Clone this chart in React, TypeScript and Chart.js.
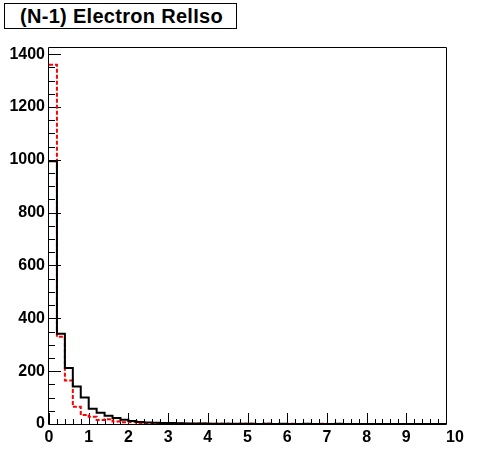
import React, { useEffect, useRef } from "react";
import { Chart, registerables } from "chart.js";

Chart.register(...registerables);

const titleText = "(N-1) Electron RelIso";
const binWidth = 0.2;
const xMin = 0;
const xMax = 10;
const yMax = 1427;
const xTickLabels = ["0", "1", "2", "3", "4", "5", "6", "7", "8", "9", "10"];
const yTickLabels = ["0", "200", "400", "600", "800", "1000", "1200", "1400"];

// black solid histogram (50 bins of width 0.2)
const blackCounts = [
  995, 342, 212, 142, 100, 58, 43, 31, 23, 16,
  11, 8, 6, 5, 4, 4, 3, 2, 2, 2,
  1, 1, 1, 1, 1, 1, 0, 1, 0, 1,
  0, 0, 1, 0, 0, 0, 1, 0, 0, 0,
  0, 0, 0, 0, 0, 0, 0, 0, 0, 0,
];

// red dashed histogram
const redCounts = [
  1360, 330, 165, 65, 34, 27, 15, 18, 9, 7,
  8, 4, 3, 4, 2, 3, 2, 1, 1, 2,
  1, 1, 1, 0, 1, 1, 0, 1, 0, 0,
  1, 0, 0, 0, 1, 0, 0, 0, 0, 0,
  0, 0, 0, 0, 0, 0, 0, 0, 0, 0,
];

function stepPoints(counts: number[]) {
  const pts: { x: number; y: number }[] = [];
  counts.forEach((c, i) => pts.push({ x: xMin + i * binWidth, y: c }));
  pts.push({ x: xMin + counts.length * binWidth, y: counts[counts.length - 1] });
  return pts;
}

const framePlugin = {
  id: "rootFrame",
  beforeDatasetsDraw(chart: any) {
    const { ctx, chartArea, scales } = chart;
    const { left, right, top, bottom } = chartArea;
    ctx.save();
    ctx.strokeStyle = "#000";
    ctx.lineWidth = 1;
    ctx.beginPath();
    ctx.rect(Math.round(left) - 0.5, Math.round(top) + 0.5, Math.round(right - left) + 1, Math.round(bottom - top));
    ctx.stroke();
    const ys = scales.y;
    for (let v = 0; v <= yMax; v += 50) {
      const y = Math.round(ys.getPixelForValue(v)) + 0.5;
      const len = v % 200 === 0 ? 12 : 6;
      ctx.beginPath();
      ctx.moveTo(left, y);
      ctx.lineTo(left + len, y);
      ctx.stroke();
    }
    const xs = scales.x;
    for (let i = 0; i <= 50; i++) {
      const x = Math.round(xs.getPixelForValue(i * binWidth)) + 0.5;
      const len = i % 5 === 0 ? 11 : 5;
      ctx.beginPath();
      ctx.moveTo(x, bottom);
      ctx.lineTo(x, bottom - len);
      ctx.stroke();
    }
    ctx.restore();
  },
};

export default function App() {
  const ref = useRef<HTMLCanvasElement>(null);
  useEffect(() => {
    if (!ref.current) return;
    const font = { family: "'Liberation Sans', Arial, sans-serif", size: 16, weight: "bold" as const };
    const chart = new Chart(ref.current, {
      type: "line",
      data: {
        datasets: [
          {
            label: "black",
            data: stepPoints(blackCounts),
            borderColor: "#000000",
            borderWidth: 2,
            stepped: "before",
            pointRadius: 0,
            fill: false,
          },
          {
            label: "red",
            data: stepPoints(redCounts),
            borderColor: "#ff0000",
            borderWidth: 2,
            borderDash: [4, 2],
            stepped: "before",
            pointRadius: 0,
            fill: false,
          },
        ],
      },
      options: {
        responsive: false,
        animation: false,
        layout: { padding: { top: 47, right: 50, left: 0, bottom: 0 } },
        plugins: { legend: { display: false }, tooltip: { enabled: false }, title: { display: false } },
        scales: {
          x: {
            type: "linear",
            min: xMin,
            max: xMax,
            grid: { display: false, drawTicks: false },
            border: { display: false },
            afterFit: (s: any) => { s.height = 48; },
            afterBuildTicks: (s: any) => { s.ticks = xTickLabels.map((t) => ({ value: Number(t) })); },
            ticks: {
              color: "#000",
              font,
              padding: 4,
              maxRotation: 0,
              autoSkip: false,
              callback: (v: any) => (Number(v) === 10 ? "\u2007\u200710" : String(v)),
            },
          },
          y: {
            type: "linear",
            min: 0,
            max: yMax,
            grid: { display: false, drawTicks: false },
            border: { display: false },
            afterFit: (s: any) => { s.width = 49; },
            afterBuildTicks: (s: any) => { s.ticks = yTickLabels.map((t) => ({ value: Number(t) })); },
            ticks: { color: "#000", font, padding: 4, autoSkip: false, callback: (v: any) => String(v) },
          },
        },
      },
      plugins: [framePlugin],
    });
    return () => chart.destroy();
  }, []);
  return (
    <div style={{ position: "absolute", left: 0, top: 0, width: 496, height: 472, background: "#fff" }}>
      <canvas ref={ref} width={496} height={472} style={{ display: "block" }} />
      <div
        style={{
          position: "absolute",
          left: 4,
          top: 3,
          width: 233,
          height: 26,
          boxSizing: "border-box",
          border: "1px solid #000",
          background: "#fff",
          fontFamily: "'Liberation Sans', Arial, sans-serif",
          fontWeight: "bold",
          fontSize: 20,
          lineHeight: "24px",
          paddingLeft: 15,
          letterSpacing: 0.3,
          whiteSpace: "nowrap",
        }}
      >
        {titleText}
      </div>
    </div>
  );
}
